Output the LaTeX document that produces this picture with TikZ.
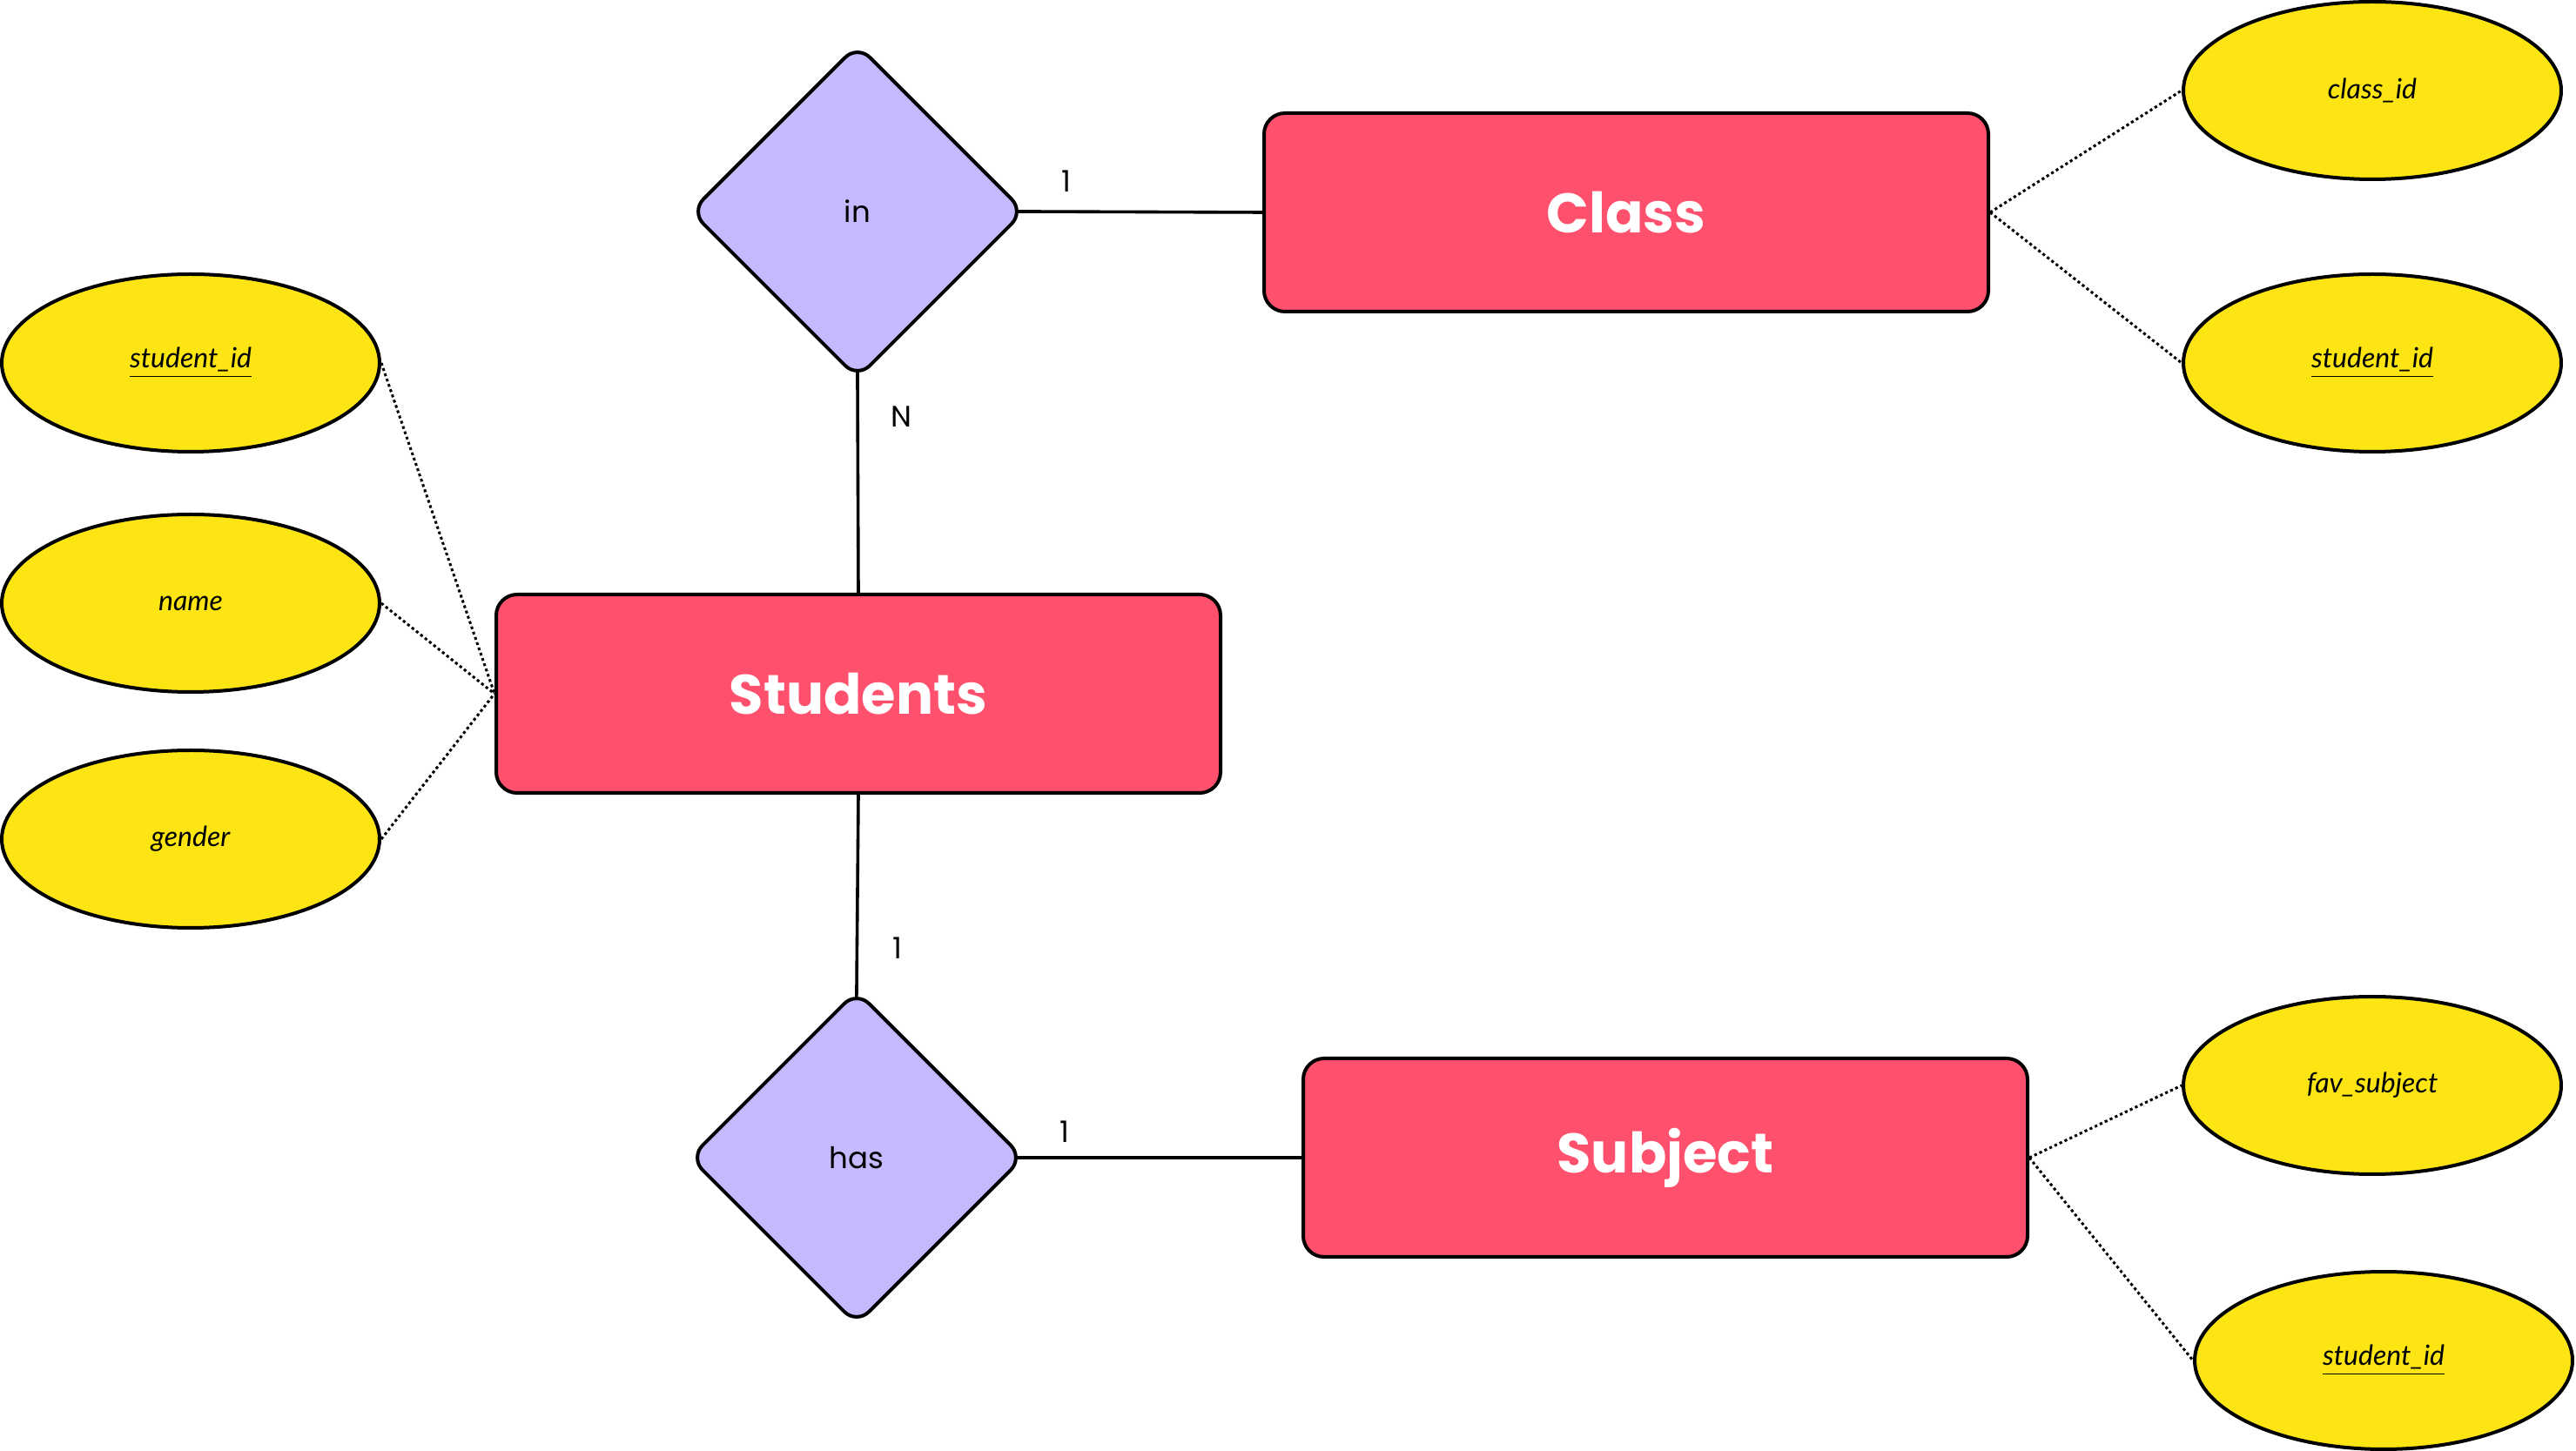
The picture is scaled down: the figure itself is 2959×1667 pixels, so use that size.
\documentclass[tikz,border=0pt]{standalone}
\usepackage{fontspec}
\setmainfont{Poppins}
\newfontfamily\titlefont{Poppins}
\newfontfamily\attrfont{Lato}
\usetikzlibrary{shapes.geometric,backgrounds}
\definecolor{entred}{HTML}{FF506D}
\definecolor{relpurple}{HTML}{C5B9FF}
\definecolor{attryellow}{HTML}{FDE514}
\tikzset{
  entity/.style={draw=black, line width=1pt, fill=entred, rounded corners=6pt,
    minimum width=208pt, minimum height=57pt, inner sep=0pt,
    font=\titlefont\bfseries\fontsize{16}{19}\selectfont, text=white},
  relation/.style={diamond, draw=black, line width=1pt, fill=relpurple, rounded corners=5pt,
    minimum width=96pt, minimum height=96pt, inner sep=0pt, aspect=1,
    font=\fontsize{8.5}{10}\selectfont},
  attrib/.style={ellipse, draw=black, line width=1pt, fill=attryellow,
    minimum width=108.5pt, minimum height=51pt, inner sep=0pt,
    font=\attrfont\itshape\fontsize{8}{10}\selectfont},
  link/.style={line width=0.9pt},
  attrlink/.style={line width=0.75pt, dash pattern=on 0.8pt off 0.8pt},
  card/.style={font=\fontsize{8.5}{10}\selectfont, inner sep=0pt}
}
\begin{document}
\begin{tikzpicture}[x=0.25pt, y=-0.25pt]
\useasboundingbox (0,0) rectangle (2959,1667);
% entities
\node[entity] (students) at (986,797) {Students};
\node[entity] (class) at (1868,244) {Class};
\node[entity] (subject) at (1913,1330) {Subject};
% relations
\node[relation] (in) at (985,243) {in};
\node[relation] (has) at (984,1330) {has};
% attributes
\node[attrib] (sid) at (219,417) {\underline{student\_id}};
\node[attrib] (name) at (219,693) {name};
\node[attrib] (gender) at (219,964) {gender};
\node[attrib] (cid) at (2725,104) {class\_id};
\node[attrib] (csid) at (2725,417) {\underline{student\_id}};
\node[attrib] (fav) at (2725,1247) {fav\_subject};
\node[attrib] (ssid) at (2738,1563) {\underline{student\_id}};
\begin{scope}[on background layer]
% relationship links
\draw[link, shorten <=-4pt] (in.east) -- (class.west);
\draw[link, shorten <=-4pt] (in.south) -- (students.north);
\draw[link, shorten >=-4pt] (students.south) -- (has.north);
\draw[link, shorten <=-4pt] (has.east) -- (subject.west);
\end{scope}
% attribute links
\draw[attrlink] (sid.east) -- (students.west);
\draw[attrlink] (name.east) -- (students.west);
\draw[attrlink] (gender.east) -- (students.west);
\draw[attrlink] (class.east) -- (cid.west);
\draw[attrlink] (class.east) -- (csid.west);
\draw[attrlink] (subject.east) -- (fav.west);
\draw[attrlink] (subject.east) -- (ssid.west);
% cardinalities
\node[card] (c1) at (1225,208) {1};
\node[card] (cn) at (1035,479) {N};
\node[card] (c2) at (1031,1089) {1};
\node[card] (c3) at (1223,1300) {1};
\end{tikzpicture}
\end{document}
